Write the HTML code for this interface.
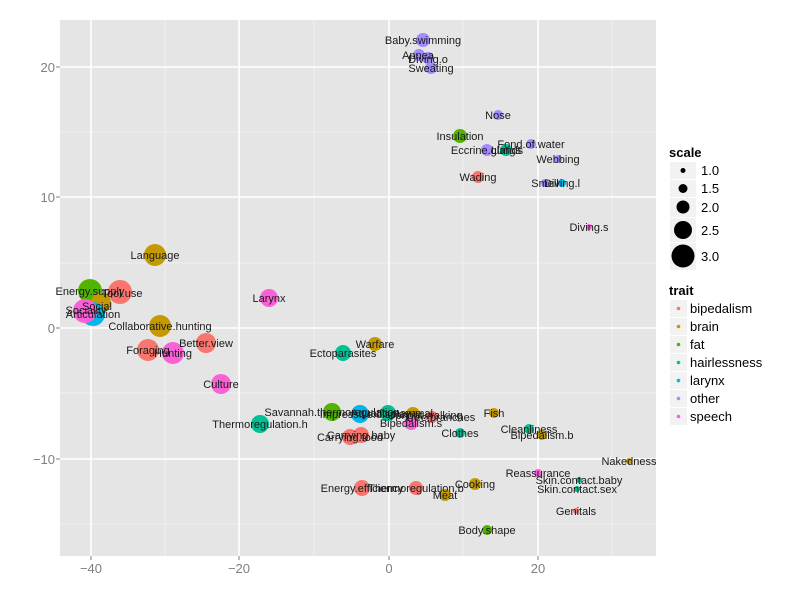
<!DOCTYPE html>
<html><head><style>body{margin:0;background:#fff}svg{display:block;font-family:"Liberation Sans",sans-serif}</style></head><body>
<svg width="800" height="600" xmlns="http://www.w3.org/2000/svg">
<rect x="60" y="20" width="596" height="536" fill="#e5e5e5"/>
<g stroke="#f2f2f2" stroke-width="0.8">
<line x1="165" y1="20" x2="165" y2="556"/><line x1="314" y1="20" x2="314" y2="556"/><line x1="463" y1="20" x2="463" y2="556"/><line x1="612" y1="20" x2="612" y2="556"/>
<line x1="60" y1="132" x2="656" y2="132"/><line x1="60" y1="263" x2="656" y2="263"/><line x1="60" y1="393" x2="656" y2="393"/><line x1="60" y1="524" x2="656" y2="524"/>
</g>
<g stroke="#fff" stroke-width="1.6">
<line x1="91" y1="20" x2="91" y2="556"/><line x1="239" y1="20" x2="239" y2="556"/><line x1="389" y1="20" x2="389" y2="556"/><line x1="538" y1="20" x2="538" y2="556"/>
<line x1="60" y1="67" x2="656" y2="67"/><line x1="60" y1="197" x2="656" y2="197"/><line x1="60" y1="328" x2="656" y2="328"/><line x1="60" y1="459" x2="656" y2="459"/>
</g>
<g fill="#7f7f7f" font-size="13" text-anchor="end">
<text x="55" y="72">20</text><text x="55" y="202">10</text><text x="55" y="333">0</text><text x="55" y="464">−10</text>
</g>
<g stroke="#7f7f7f"><line x1="56" y1="67" x2="60" y2="67"/><line x1="56" y1="197" x2="60" y2="197"/><line x1="56" y1="328" x2="60" y2="328"/><line x1="56" y1="459" x2="60" y2="459"/>
<line x1="91" y1="556" x2="91" y2="560"/><line x1="239" y1="556" x2="239" y2="560"/><line x1="389" y1="556" x2="389" y2="560"/><line x1="538" y1="556" x2="538" y2="560"/></g>
<g fill="#7f7f7f" font-size="13" text-anchor="middle">
<text x="91" y="573">−40</text><text x="239" y="573">−20</text><text x="389" y="573">0</text><text x="538" y="573">20</text>
</g>
<g>
<circle cx="423" cy="40" r="7" fill="#A58AFF"/>
<circle cx="419" cy="55" r="6" fill="#A58AFF"/><circle cx="428" cy="58" r="6" fill="#A58AFF"/><circle cx="431" cy="68" r="6" fill="#A58AFF"/>
<circle cx="498" cy="115" r="5" fill="#A58AFF"/>
<circle cx="460" cy="136" r="7" fill="#53B400"/>
<circle cx="531" cy="144" r="5" fill="#A58AFF"/>
<circle cx="487" cy="150" r="6" fill="#A58AFF"/><circle cx="506" cy="150" r="6" fill="#00C094"/>
<circle cx="558" cy="159" r="4" fill="#A58AFF"/>
<circle cx="478" cy="177" r="6" fill="#F8766D"/>
<circle cx="545" cy="183" r="4" fill="#A58AFF"/><circle cx="562" cy="183" r="4" fill="#00B6EB"/>
<circle cx="589" cy="227" r="3" fill="#FB61D7"/>
<circle cx="155" cy="255" r="11" fill="#C49A00"/>
<circle cx="90" cy="291" r="12" fill="#53B400"/><circle cx="120" cy="292" r="12" fill="#F8766D"/>
<circle cx="101" cy="303" r="10" fill="#C49A00"/>
<circle cx="93" cy="314" r="12" fill="#00B6EB"/><circle cx="85" cy="311" r="12" fill="#FB61D7"/>
<circle cx="269" cy="298" r="9" fill="#FB61D7"/>
<circle cx="160" cy="326" r="11" fill="#C49A00"/>
<circle cx="206" cy="343" r="10" fill="#F8766D"/>
<circle cx="148" cy="350" r="11" fill="#F8766D"/><circle cx="173" cy="353" r="11" fill="#FB61D7"/>
<circle cx="375" cy="344" r="7" fill="#C49A00"/>
<circle cx="343" cy="353" r="8" fill="#00C094"/>
<circle cx="221" cy="384" r="10" fill="#FB61D7"/>
<circle cx="494" cy="413" r="5" fill="#C49A00"/>
<circle cx="332" cy="412" r="9" fill="#53B400"/><circle cx="360" cy="414" r="9" fill="#00B6EB"/><circle cx="388" cy="413" r="8" fill="#00C094"/>
<circle cx="413" cy="414" r="7" fill="#C49A00"/><circle cx="432" cy="417" r="6" fill="#F8766D"/><circle cx="411" cy="423" r="7" fill="#FB61D7"/>
<circle cx="260" cy="424" r="9" fill="#00C094"/>
<circle cx="460" cy="433" r="5" fill="#00C094"/>
<circle cx="529" cy="429" r="5" fill="#00C094"/><circle cx="542" cy="435" r="5" fill="#C49A00"/>
<circle cx="350" cy="437" r="8" fill="#F8766D"/><circle cx="361" cy="435" r="8" fill="#F8766D"/>
<circle cx="629" cy="461" r="3" fill="#C49A00"/>
<circle cx="538" cy="473" r="4" fill="#FB61D7"/><circle cx="579" cy="480" r="3" fill="#00C094"/><circle cx="577" cy="489" r="3" fill="#00C094"/>
<circle cx="362" cy="488" r="8" fill="#F8766D"/><circle cx="416" cy="488" r="7" fill="#F8766D"/>
<circle cx="475" cy="484" r="6" fill="#C49A00"/><circle cx="445" cy="495" r="6" fill="#C49A00"/>
<circle cx="576" cy="511" r="3" fill="#F8766D"/>
<circle cx="487" cy="530" r="5" fill="#53B400"/>
</g>
<g font-size="11" fill="#1a1a1a" text-anchor="middle">
<text x="423" y="44">Baby.swimming</text>
<text x="418" y="59">Apnea</text><text x="428" y="63">Diving.o</text><text x="431" y="72">Sweating</text>
<text x="498" y="119">Nose</text><text x="460" y="140">Insulation</text><text x="531" y="148">Fond.of.water</text>
<text x="487" y="154">Eccrine.glands</text><text x="506" y="154">Lungs</text><text x="558" y="163">Webbing</text>
<text x="478" y="181">Wading</text><text x="545" y="187">Smell</text><text x="562" y="187">Diving.l</text>
<text x="589" y="231">Diving.s</text>
<text x="155" y="259">Language</text>
<text x="90" y="295">Energy.supply</text><text x="122" y="297">Tool.use</text>
<text x="97" y="310">Social</text><text x="86" y="314">Sociality</text><text x="93" y="318">Articulation</text>
<text x="269" y="302">Larynx</text><text x="160" y="330">Collaborative.hunting</text>
<text x="206" y="347">Better.view</text><text x="148" y="354">Foraging</text><text x="173" y="357">Hunting</text>
<text x="375" y="348">Warfare</text><text x="343" y="357">Ectoparasites</text><text x="221" y="388">Culture</text>
<text x="494" y="417">Fish</text>
<text x="332" y="416">Savannah.thermoregulation</text><text x="365" y="418">Impressive.display</text><text x="392" y="417">Aquatic.mammal</text>
<text x="425" y="419">Upright.walking</text><text x="440" y="421">Tree.branches</text><text x="411" y="427">Bipedalism.s</text>
<text x="260" y="428">Thermoregulation.h</text><text x="460" y="437">Clothes</text>
<text x="529" y="433">Cleanliness</text><text x="542" y="439">Bipedalism.b</text>
<text x="350" y="441">Carrying.food</text><text x="361" y="439">Carrying.baby</text>
<text x="629" y="465">Nakedness</text><text x="538" y="477">Reassurance</text>
<text x="579" y="484">Skin.contact.baby</text><text x="577" y="493">Skin.contact.sex</text>
<text x="362" y="492">Energy.efficiency</text><text x="416" y="492">Thermoregulation.b</text>
<text x="475" y="488">Cooking</text><text x="445" y="499">Meat</text>
<text x="576" y="515">Genitals</text><text x="487" y="534">Body.shape</text>
</g>
<g font-family="Liberation Sans,sans-serif">
<text x="669" y="157" font-size="13" font-weight="bold">scale</text>
<rect x="670" y="162" width="26" height="17" fill="#f2f2f2"/><circle cx="683" cy="170.5" r="2.5" fill="#000"/>
<rect x="670" y="180" width="26" height="17" fill="#f2f2f2"/><circle cx="683" cy="188.5" r="4.5" fill="#000"/>
<rect x="670" y="198" width="26" height="19" fill="#f2f2f2"/><circle cx="683" cy="207" r="6.5" fill="#000"/>
<rect x="670" y="218" width="26" height="24" fill="#f2f2f2"/><circle cx="683" cy="230" r="9" fill="#000"/>
<rect x="670" y="243" width="26" height="27" fill="#f2f2f2"/><circle cx="683" cy="256" r="11.5" fill="#000"/>
<g font-size="13" fill="#000"><text x="701" y="175">1.0</text><text x="701" y="193">1.5</text><text x="701" y="212">2.0</text><text x="701" y="235">2.5</text><text x="701" y="261">3.0</text></g>
<text x="669" y="295" font-size="13" font-weight="bold">trait</text>
<g fill="#f2f2f2"><rect x="670" y="300" width="17" height="17"/><rect x="670" y="318" width="17" height="17"/><rect x="670" y="336" width="17" height="17"/><rect x="670" y="354" width="17" height="17"/><rect x="670" y="372" width="17" height="17"/><rect x="670" y="390" width="17" height="17"/><rect x="670" y="408" width="17" height="17"/></g>
<circle cx="678.5" cy="308.5" r="1.8" fill="#F8766D"/><circle cx="678.5" cy="326.5" r="1.8" fill="#C49A00"/><circle cx="678.5" cy="344.5" r="1.8" fill="#53B400"/><circle cx="678.5" cy="362.5" r="1.8" fill="#00C094"/><circle cx="678.5" cy="380.5" r="1.8" fill="#00B6EB"/><circle cx="678.5" cy="398.5" r="1.8" fill="#A58AFF"/><circle cx="678.5" cy="416.5" r="1.8" fill="#FB61D7"/>
<g font-size="13" fill="#000"><text x="690" y="313">bipedalism</text><text x="690" y="331">brain</text><text x="690" y="349">fat</text><text x="690" y="367">hairlessness</text><text x="690" y="385">larynx</text><text x="690" y="403">other</text><text x="690" y="421">speech</text></g>
</g>
</svg>
</body></html>
